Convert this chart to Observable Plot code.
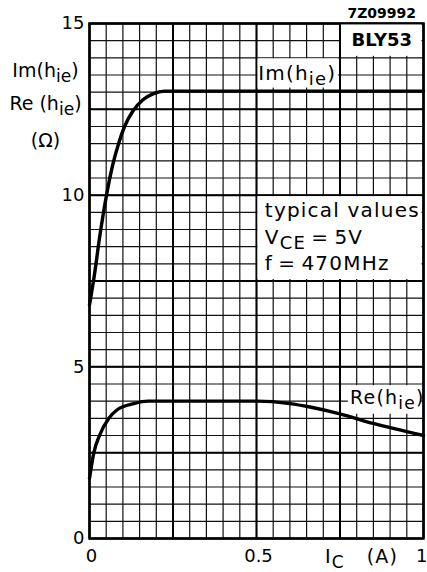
<!DOCTYPE html>
<html>
<head>
<meta charset="utf-8">
<script src="https://cdn.jsdelivr.net/npm/d3@7"></script>
<script src="https://cdn.jsdelivr.net/npm/@observablehq/plot@0.6"></script>
<style>
  html, body { margin: 0; padding: 0; background: #fff; }
  #chart svg { display: block; }
  .wide text { letter-spacing: 1.2px; }
</style>
</head>
<body>
<div id="chart"></div>
<script>
// BLY53: input impedance h_ie (imaginary and real part) versus collector current
const icIm = [0, 0.015, 0.03, 0.05, 0.07, 0.087, 0.105, 0.13, 0.16, 0.19, 0.225, 0.4, 0.6, 0.8, 1];
const imHie = [6.8, 7.7, 8.75, 9.95, 10.9, 11.5, 12.0, 12.45, 12.78, 12.95, 13.03, 13.03, 13.03, 13.03, 13.03];

const icRe = [0, 0.013, 0.03, 0.058, 0.083, 0.133, 0.175, 0.3, 0.5, 0.6, 0.66, 0.75, 0.85, 1];
const reHie = [1.75, 2.5, 3.0, 3.5, 3.75, 3.93, 4.0, 4.0, 4.0, 3.93, 3.83, 3.63, 3.35, 3.0];

// axis ticks and grid
const yTicks = [0, 5, 10, 15];
const xTicks = [0, 0.5];
const xTickLabels = ["0", "0.5"];
const xEndTick = 1;
const xMinor = d3.range(0, 1.0001, 0.05);
const xMajor = [0, 0.25, 0.5, 0.75, 1];
const yMinor = d3.range(0, 15.001, 0.5);
const yMajor = [0, 2.5, 5, 7.5, 10, 12.5, 15];

// annotation texts
const conditions = ["typical values", "V_{CE}\u2009=\u20095V", "f\u2009=\u2009470MHz"];
const conditionY = [9.55, 8.77, 8.0];
const yTitle = ["Im(h_{ie})", "Re (h_{ie})", "(Ω)"];
const yTitleY = [13.63, 12.67, 11.59];

const imData = icIm.map((x, i) => ({x, y: imHie[i]}));
const reData = icRe.map((x, i) => ({x, y: reHie[i]}));

const font = "'DejaVu Sans', sans-serif";

const chart = Plot.plot({
  width: 427,
  height: 572,
  marginLeft: 89,
  marginRight: 4,
  marginTop: 23,
  marginBottom: 34,
  x: {domain: [0, 1], axis: null},
  y: {domain: [0, 15], axis: null},
  style: {fontFamily: font, fontSize: "17px", color: "#000", background: "#fff"},
  marks: [
    // minor and major grid
    Plot.ruleX(xMinor, {stroke: "#111", strokeWidth: 1.2}),
    Plot.ruleY(yMinor, {stroke: "#111", strokeWidth: 1.2}),
    Plot.ruleX(xMajor, {stroke: "#000", strokeWidth: 2}),
    Plot.ruleY(yMajor, {stroke: "#000", strokeWidth: 2}),
    Plot.frame({stroke: "#000", strokeWidth: 2.5}),
    // white label panels
    Plot.rect([{x1: 0.75, x2: 1, y1: 14, y2: 15}], {x1: "x1", x2: "x2", y1: "y1", y2: "y2", fill: "#fff", inset: 1.5}),
    Plot.rect([{x1: 0.5, x2: 1, y1: 7.5, y2: 10}], {x1: "x1", x2: "x2", y1: "y1", y2: "y2", fill: "#fff", inset: 1.5}),
    Plot.rect([{x1: 0.505, x2: 0.745, y1: 13.12, y2: 13.97}], {x1: "x1", x2: "x2", y1: "y1", y2: "y2", fill: "#fff"}),
    Plot.rect([{x1: 0.775, x2: 0.995, y1: 3.62, y2: 4.45}], {x1: "x1", x2: "x2", y1: "y1", y2: "y2", fill: "#fff"}),
    // curves
    Plot.line(imData, {x: "x", y: "y", stroke: "#000", strokeWidth: 3.4, curve: "monotone-x"}),
    Plot.line(reData, {x: "x", y: "y", stroke: "#000", strokeWidth: 3.4, curve: "monotone-x"}),
    // curve labels
    Plot.text(["Im(h_{ie})"], {x: 0.505, y: 13.55, text: d => d, textAnchor: "start", fontSize: 20, className: "wide"}),
    Plot.text(["Re(h_{ie})"], {x: 0.78, y: 4.1, text: d => d, textAnchor: "start", fontSize: 19, className: "wide"}),
    // conditions
    Plot.text(conditions, {x: 0.525, y: (d, i) => conditionY[i], text: d => d, textAnchor: "start", fontSize: 20, className: "wide"}),
    // type and drawing number
    Plot.text(["BLY53"], {x: 0.875, y: 14.5, text: d => d, fontSize: 18, fontWeight: "bold"}),
    Plot.text(["7Z09992"], {x: 0.875, y: 15, dy: -10, text: d => d, fontSize: 14, fontWeight: "bold"}),
    // y ticks
    Plot.text(yTicks, {x: 0, y: d => d, text: d => String(d), textAnchor: "end", dx: -5, fontSize: 18}),
    // y title
    Plot.text(yTitle, {x: 0, y: (d, i) => yTitleY[i], text: d => d, dx: -44, fontSize: 19}),
    // x ticks
    Plot.text(xTicks, {x: d => d, y: 0, text: (d, i) => xTickLabels[i], dy: 18, dx: 2, fontSize: 18}),
    Plot.text([xEndTick], {x: d => d, y: 0, text: d => String(d), dy: 18, dx: 4, textAnchor: "end", fontSize: 18}),
    // x title
    Plot.text(["I_{C}   (A)"], {x: 0.705, y: 0, dy: 18, text: d => d, textAnchor: "start", fontSize: 19, className: "wide"})
  ]
});

// render "_{...}" as subscript tspans
d3.select(chart).selectAll("text").each(function () {
  const t = this.textContent;
  if (!t.includes("_{")) return;
  const el = d3.select(this);
  el.text(null);
  const parts = t.split(/(_\{[^}]*\})/);
  let shifted = false;
  for (const p of parts) {
    if (!p) continue;
    if (p.startsWith("_{")) {
      el.append("tspan").attr("dy", "0.3em").attr("font-size", "0.9em").text(p.slice(2, -1));
      shifted = true;
    } else {
      const ts = el.append("tspan").text(p);
      if (shifted) { ts.attr("dy", "-0.27em"); shifted = false; }
    }
  }
});

document.getElementById("chart").append(chart);
</script>
</body>
</html>
